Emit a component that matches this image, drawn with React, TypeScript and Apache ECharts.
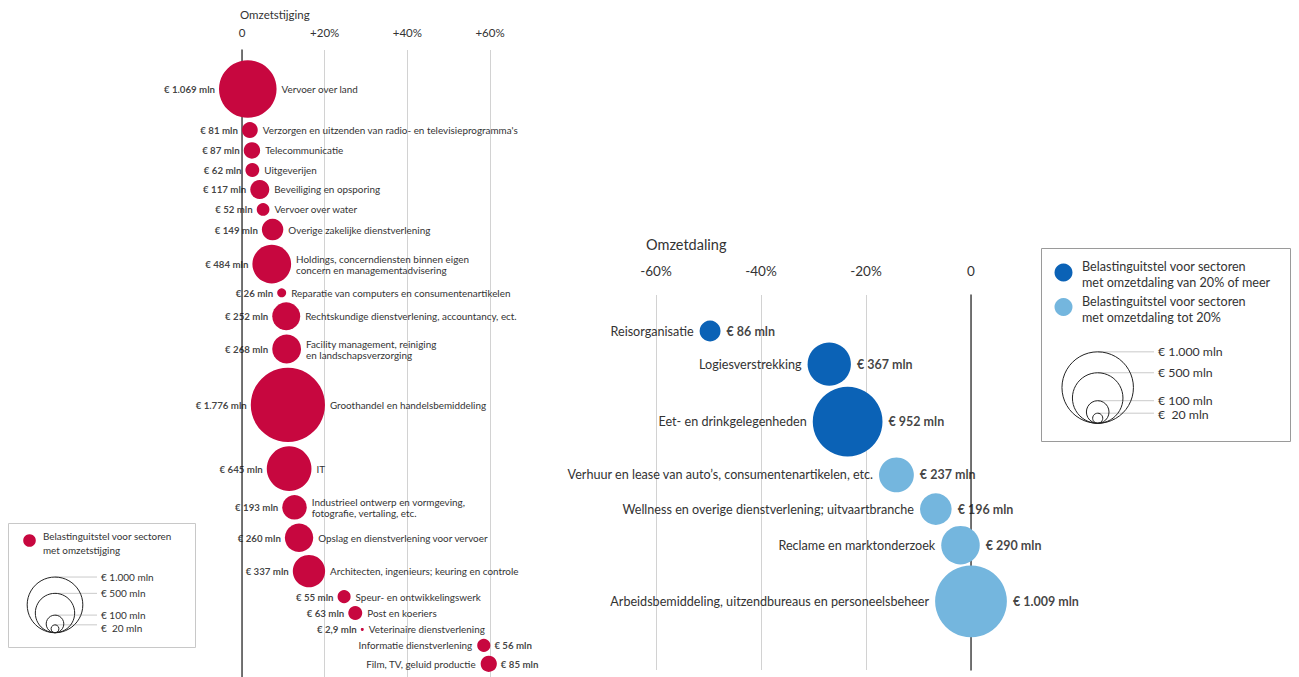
import React, { useEffect, useRef } from "react";
import * as echarts from "echarts";

// ---------- data: sectors with rising turnover ----------
const riseNames = [
  "Vervoer over land",
  "Verzorgen en uitzenden van radio- en televisieprogramma's",
  "Telecommunicatie",
  "Uitgeverijen",
  "Beveiliging en opsporing",
  "Vervoer over water",
  "Overige zakelijke dienstverlening",
  "Holdings, concerndiensten binnen eigen\nconcern en managementadvisering",
  "Reparatie van computers en consumentenartikelen",
  "Rechtskundige dienstverlening, accountancy, ect.",
  "Facility management, reiniging\nen landschapsverzorging",
  "Groothandel en handelsbemiddeling",
  "IT",
  "Industrieel ontwerp en vormgeving,\nfotografie, vertaling, etc.",
  "Opslag en dienstverlening voor vervoer",
  "Architecten, ingenieurs; keuring en controle",
  "Speur- en ontwikkelingswerk",
  "Post en koeriers",
  "Veterinaire dienstverlening",
  "Informatie dienstverlening",
  "Film, TV, geluid productie",
];
const riseChange = [1.4, 1.9, 2.4, 2.5, 4.3, 5.1, 7.4, 7.2, 9.6, 10.7, 10.8, 11.1, 11.4, 12.7, 13.8, 16.2, 24.7, 27.4, 29.1, 58.5, 59.7];
const riseAmount = [1069, 81, 87, 62, 117, 52, 149, 484, 26, 252, 268, 1776, 645, 193, 260, 337, 55, 63, 2.9, 56, 85];
const riseTicks = [0, 20, 40, 60];

// ---------- data: sectors with falling turnover ----------
const fallNames = [
  "Reisorganisatie",
  "Logiesverstrekking",
  "Eet- en drinkgelegenheden",
  "Verhuur en lease van auto’s, consumentenartikelen, etc.",
  "Wellness en overige dienstverlening; uitvaartbranche",
  "Reclame en marktonderzoek",
  "Arbeidsbemiddeling, uitzendbureaus en personeelsbeheer",
];
const fallChange = [-49.7, -27.0, -23.5, -14.2, -6.7, -2.0, 0];
const fallAmount = [86, 367, 952, 237, 196, 290, 1009];
const fallTicks = [-60, -40, -20, 0];

// ---------- legend ----------
const legendAmounts = [1000, 500, 100, 20];
const legendLabels = ["€ 1.000 mln", "€ 500 mln", "€ 100 mln", "€  20 mln"];
const riseLegendText = ["Belastinguitstel voor sectoren", "met omzetstijging"];
const fallLegendText1 = ["Belastinguitstel voor sectoren", "met omzetdaling van 20% of meer"];
const fallLegendText2 = ["Belastinguitstel voor sectoren", "met omzetdaling tot 20%"];

const CRIMSON = "#c7073f";
const DARK_BLUE = "#0b62b6";
const LIGHT_BLUE = "#74b6de";
const TEXT = "#333333";
const VALUE_TEXT = "#111111";
const FONT = "Lato";

const K_RISE = 0.88;
const K_FALL = 1.13;

const L_NAME_FS = 9.9;
const L_VAL_FS = 9.7;
const L_LH = 11;
const L_NAME_DIST = 5;
const L_VAL_DIST = 4;
const R_NAME_FS = 12.6;
const R_VAL_FS = 12.5;

function fmtMln(v: number): string {
  const parts = String(v).split(".");
  const intS = parts[0].replace(/\B(?=(\d{3})+(?!\d))/g, ".");
  return "€ " + intS + (parts[1] ? "," + parts[1] : "") + " mln";
}

let measureCtx: CanvasRenderingContext2D | null = null;
function textWidth(text: string, size: number, weight: string): number {
  if (!measureCtx) measureCtx = document.createElement("canvas").getContext("2d");
  if (!measureCtx) return text.length * size * 0.5;
  measureCtx.font = `${weight} ${size}px ${FONT}`;
  return Math.max(...text.split("\n").map((l) => measureCtx!.measureText(l).width));
}

function halfHeight(text: string): number {
  const lines = text.split("\n").length;
  return lines === 1 ? 5 : (lines * L_LH) / 2;
}

type Row = {
  cx: number; r: number;
  lw: number; lh: number; ld: number;
  rw: number; rh: number; rd: number;
};

// vertical packing of rows: bubbles keep a gap, labels may not overlap bubbles
function packRows(rows: Row[], gap: number, minStep: number): number[] {
  const ys = [0];
  const boxes = (w: Row) => [
    { x0: w.cx - w.r, x1: w.cx + w.r, h: w.r, b: true },
    { x0: w.cx - w.r - w.ld - w.lw, x1: w.cx - w.r - w.ld, h: w.lh, b: false },
    { x0: w.cx + w.r + w.rd, x1: w.cx + w.r + w.rd + w.rw, h: w.rh, b: false },
  ];
  for (let i = 1; i < rows.length; i++) {
    const p = rows[i - 1];
    const n = rows[i];
    let dy = minStep;
    const dx = Math.abs(n.cx - p.cx);
    const s = p.r + n.r + gap;
    if (dx < s) dy = Math.max(dy, Math.sqrt(s * s - dx * dx));
    for (const a of boxes(p)) {
      for (const b of boxes(n)) {
        if (a.b && b.b) continue;
        if (a.x1 > b.x0 && b.x1 > a.x0) dy = Math.max(dy, a.h + b.h + gap);
      }
    }
    ys.push(ys[i - 1] + dy);
  }
  return ys;
}

function stackOffsets(radii: number[], gap: number, minStep: number): number[] {
  const out: number[] = [0];
  for (let i = 1; i < radii.length; i++) {
    out.push(out[i - 1] + Math.max(radii[i - 1] + radii[i] + gap, minStep));
  }
  return out;
}

function legendGroup(cx: number, bottom: number, k: number, labelX: number, fontSize: number, minSpacing: number): any[] {
  const els: any[] = [];
  let prevY = -Infinity;
  legendAmounts.forEach((a, i) => {
    const r = k * Math.sqrt(a);
    const top = bottom - 2 * r;
    let ly = top;
    if (ly - prevY < minSpacing) ly = prevY + minSpacing;
    prevY = ly;
    els.push({
      type: "line",
      shape: { x1: cx, y1: top, x2: labelX - 4, y2: top },
      style: { stroke: "#bdbdbd", lineWidth: 0.8 },
      z: 1,
    });
    els.push({
      type: "circle",
      shape: { cx, cy: bottom - r, r },
      style: { fill: "none", stroke: "#222", lineWidth: 1 },
      z: 2,
    });
    els.push(txt(labelX, ly, legendLabels[i], fontSize));
  });
  return els;
}

function txt(x: number, y: number, text: string, fontSize: number, extra: any = {}): any {
  return {
    type: "text",
    x,
    y,
    style: {
      text,
      fontFamily: FONT,
      fontSize,
      fill: TEXT,
      align: "left",
      verticalAlign: "middle",
      textAlign: "left",
      textVerticalAlign: "middle",
      ...extra,
    },
    z: 3,
  };
}

export default function App() {
  const ref = useRef<HTMLDivElement>(null);

  useEffect(() => {
    if (!ref.current) return;
    const chart = echarts.init(ref.current, null, { renderer: "svg" });

    const riseGridW = 248;
    const risePx = riseGridW / (riseTicks[riseTicks.length - 1] - riseTicks[0]);
    const riseFlip = riseChange.map((c) => c > 45);
    const riseR = riseAmount.map((a) => K_RISE * Math.sqrt(a));
    const riseRows: Row[] = riseChange.map((c, i) => {
      const nameW = textWidth(riseNames[i], L_NAME_FS, "normal");
      const nameH = halfHeight(riseNames[i]);
      const valW = textWidth(fmtMln(riseAmount[i]), L_VAL_FS, "bold");
      const valH = halfHeight(fmtMln(riseAmount[i]));
      return riseFlip[i]
        ? { cx: c * risePx, r: riseR[i], lw: nameW, lh: nameH, ld: L_NAME_DIST, rw: valW, rh: valH, rd: L_VAL_DIST }
        : { cx: c * risePx, r: riseR[i], lw: valW, lh: valH, ld: L_VAL_DIST, rw: nameW, rh: nameH, rd: L_NAME_DIST };
    });
    const riseY = packRows(riseRows, 4.4, 15.5).map((o) => o + 39);

    const fallR = fallAmount.map((a) => K_FALL * Math.sqrt(a));
    const fallY = stackOffsets(fallR, 1, 20).map((o) => o + 36);

    const riseMain = riseChange.map((c, i) => ({
      value: [c, riseY[i], riseAmount[i]],
      name: riseNames[i],
      label: { position: riseFlip[i] ? "left" : "right", distance: L_NAME_DIST },
    }));
    const riseVals = riseChange.map((c, i) => ({
      value: [c, riseY[i], riseAmount[i]],
      name: fmtMln(riseAmount[i]),
      label: { position: riseFlip[i] ? "right" : "left", distance: L_VAL_DIST },
    }));
    const fallMain = fallChange.map((c, i) => ({
      value: [c, fallY[i], fallAmount[i]],
      name: fallNames[i],
      itemStyle: { color: c <= -20 ? DARK_BLUE : LIGHT_BLUE, opacity: 1 },
    }));
    const fallVals = fallChange.map((c, i) => ({
      value: [c, fallY[i], fallAmount[i]],
      name: fmtMln(fallAmount[i]),
    }));

    const riseSize = (v: number[]) => 2 * K_RISE * Math.sqrt(v[2]);
    const fallSize = (v: number[]) => 2 * K_FALL * Math.sqrt(v[2]);

    const graphic: any[] = [
      txt(240, 14, "Omzetstijging", 11.5),
      txt(646, 244, "Omzetdaling", 14.5),
      // left legend
      {
        type: "rect",
        shape: { x: 8.5, y: 523.5, width: 187, height: 124 },
        style: { fill: "#fff", stroke: "#c8c8c8", lineWidth: 1 },
        z: 0,
      },
      { type: "circle", shape: { cx: 29.5, cy: 540.5, r: 6.3 }, style: { fill: CRIMSON }, z: 2 },
      txt(43, 536, riseLegendText[0], 9.9),
      txt(43, 549.5, riseLegendText[1], 9.9),
      ...legendGroup(55, 632.7, K_RISE, 101, 10, 13),
      // right legend
      {
        type: "rect",
        shape: { x: 1041.5, y: 248.5, width: 249, height: 193 },
        style: { fill: "#fff", stroke: "#9a9a9a", lineWidth: 1 },
        z: 0,
      },
      { type: "circle", shape: { cx: 1063.5, cy: 272.5, r: 9 }, style: { fill: DARK_BLUE }, z: 2 },
      { type: "circle", shape: { cx: 1063.5, cy: 307, r: 9 }, style: { fill: LIGHT_BLUE }, z: 2 },
      txt(1082, 266, fallLegendText1[0], 12.6),
      txt(1082, 282.5, fallLegendText1[1], 12.6),
      txt(1082, 301, fallLegendText2[0], 12.6),
      txt(1082, 317.5, fallLegendText2[1], 12.6),
      ...legendGroup(1097.7, 423.3, K_FALL, 1158, 12.3, 14),
    ];

    const axisCommon = {
      type: "value",
      position: "top",
      axisLine: { show: false },
      axisTick: { show: false },
      splitLine: { show: true, lineStyle: { color: "#d2d2d2", width: 1 } },
    };
    const yCommon = {
      type: "value",
      min: 0,
      inverse: true,
      axisLine: { show: true, lineStyle: { color: "#4a4a4a", width: 1.5 } },
      axisTick: { show: false },
      axisLabel: { show: false },
      splitLine: { show: false },
    };

    const option: any = {
      animation: false,
      backgroundColor: "#ffffff",
      textStyle: { fontFamily: FONT },
      grid: [
        { left: 242, top: 50, width: riseGridW, height: 627 },
        { left: 656, top: 295, width: 315, height: 375 },
      ],
      xAxis: [
        {
          ...axisCommon,
          gridIndex: 0,
          min: riseTicks[0],
          max: riseTicks[riseTicks.length - 1],
          interval: riseTicks[1] - riseTicks[0],
          axisLabel: {
            formatter: (v: number) => (v === 0 ? "0" : "+" + v + "%"),
            fontFamily: FONT,
            fontSize: 11.5,
            color: TEXT,
            margin: 12,
          },
        },
        {
          ...axisCommon,
          gridIndex: 1,
          min: fallTicks[0],
          max: fallTicks[fallTicks.length - 1],
          interval: fallTicks[1] - fallTicks[0],
          axisLabel: {
            formatter: (v: number) => (v === 0 ? "0" : v + "%"),
            fontFamily: FONT,
            fontSize: 13.5,
            color: TEXT,
            margin: 17,
          },
        },
      ],
      yAxis: [
        { ...yCommon, gridIndex: 0, max: 627 },
        { ...yCommon, gridIndex: 1, max: 375 },
      ],
      series: [
        {
          type: "scatter",
          xAxisIndex: 0,
          yAxisIndex: 0,
          clip: false,
          symbol: "circle",
          symbolSize: riseSize,
          itemStyle: { color: CRIMSON, opacity: 1 },
          emphasis: { disabled: true },
          label: {
            show: true,
            formatter: (p: any) => p.name,
            fontFamily: FONT,
            fontSize: L_NAME_FS,
            lineHeight: L_LH,
            color: TEXT,
          },
          data: riseMain,
          z: 3,
        },
        {
          type: "scatter",
          xAxisIndex: 0,
          yAxisIndex: 0,
          clip: false,
          symbol: "circle",
          symbolSize: riseSize,
          itemStyle: { color: "rgba(0,0,0,0)" },
          emphasis: { disabled: true },
          silent: true,
          label: {
            show: true,
            formatter: (p: any) => p.name,
            fontFamily: FONT,
            fontSize: L_VAL_FS,
            fontWeight: "bold",
            color: VALUE_TEXT,
          },
          data: riseVals,
          z: 2,
        },
        {
          type: "scatter",
          xAxisIndex: 1,
          yAxisIndex: 1,
          clip: false,
          symbol: "circle",
          symbolSize: fallSize,
          itemStyle: { opacity: 1 },
          emphasis: { disabled: true },
          label: {
            show: true,
            position: "left",
            formatter: (p: any) => p.name,
            fontFamily: FONT,
            fontSize: R_NAME_FS,
            color: TEXT,
            distance: 6,
          },
          data: fallMain,
          z: 3,
        },
        {
          type: "scatter",
          xAxisIndex: 1,
          yAxisIndex: 1,
          clip: false,
          symbol: "circle",
          symbolSize: fallSize,
          itemStyle: { color: "rgba(0,0,0,0)" },
          emphasis: { disabled: true },
          silent: true,
          label: {
            show: true,
            position: "right",
            formatter: (p: any) => p.name,
            fontFamily: FONT,
            fontSize: R_VAL_FS,
            fontWeight: "bold",
            color: VALUE_TEXT,
            distance: 6,
          },
          data: fallVals,
          z: 2,
        },
      ],
      graphic,
    };

    chart.setOption(option);
    return () => chart.dispose();
  }, []);

  return (
    <div
      ref={ref}
      style={{ position: "absolute", left: 0, top: 0, width: 1299, height: 677, background: "#fff" }}
    />
  );
}
